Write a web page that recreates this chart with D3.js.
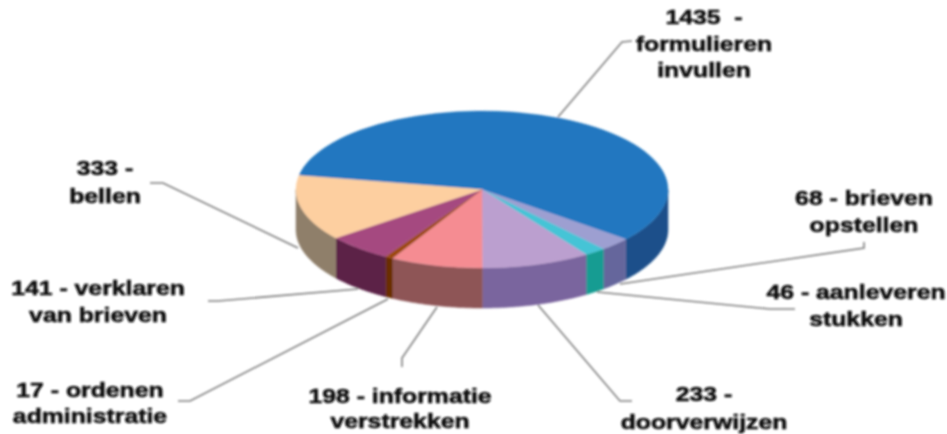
<!DOCTYPE html>
<html>
<head>
<meta charset="utf-8">
<script src="https://cdnjs.cloudflare.com/ajax/libs/d3/7.8.5/d3.min.js"></script>
<style>
  html, body { margin: 0; background: #fff; overflow: hidden; }
  text { font-family: "Liberation Sans", Arial, sans-serif; font-weight: bold; font-size: 20px; fill: #111; stroke: #111; stroke-width: 0.55; text-anchor: middle; white-space: pre; }
</style>
</head>
<body>
<script>
var w = 947;
var h = 434;

var tasks = ["formulieren invullen", "brieven opstellen", "aanleveren stukken", "doorverwijzen",
  "informatie verstrekken", "ordenen administratie", "verklaren van brieven", "bellen"];
var counts = [1435, 68, 46, 233, 198, 17, 141, 333];
var topColors = ["#2277c0", "#9d9fd1", "#45c4d6", "#bb9fcf", "#f58c92", "#9c4a10", "#a54a80", "#fdcfa0"];
var sideColors = ["#1a4f8a", "#65669c", "#159c92", "#7a659e", "#8e5557", "#6b2e05", "#5c2347", "#8f7f6a"];
var labelLines = [
  ["1435  -", "formulieren", "invullen"],
  ["68 - brieven", "opstellen"],
  ["46 - aanleveren", "stukken"],
  ["233 -", "doorverwijzen"],
  ["198 - informatie", "verstrekken"],
  ["17 - ordenen", "administratie"],
  ["141 - verklaren", "van brieven"],
  ["333 -", "bellen"]
];

// Layout of the labels and their leader lines, not data
var labelX = [704, 864, 856, 704, 400, 90, 98, 105];
var labelY = [[24, 51, 77], [205, 232], [299, 326], [401, 429], [403, 428], [397, 423], [295, 322], [175, 203]];
var textStretch = 1.24;
var leaders = [
  [[558, 117], [622, 42], [632, 41]],
  [[620, 284], [864, 248], [864, 242]],
  [[597, 292], [770, 309], [795, 309]],
  [[538, 305], [620, 401], [632, 401]],
  [[437, 307], [402, 358], [402, 367]],
  [[388, 299], [190, 401], [178, 401]],
  [[358, 289], [218, 301], [208, 301]],
  [[298, 248], [163, 183], [150, 183]]
];

var cx = 482, cy = 189.5, rx = 186, ry = 78.5, depth = 40;
var rotation = 280.3 * Math.PI / 180;

var svg = d3.select("body")
  .append("svg")
  .attr("width", w)
  .attr("height", h);

// The reference is a soft, upscaled picture
var defs = svg.append("defs");
defs.append("filter")
  .attr("id", "soft")
  .append("feGaussianBlur")
  .attr("stdDeviation", 0.8);
defs.append("filter")
  .attr("id", "softText")
  .append("feGaussianBlur")
  .attr("stdDeviation", 0.9);

var chart = svg.append("g").attr("filter", "url(#soft)");
var labels = svg.append("g").attr("filter", "url(#softText)");

var pie = d3.pie()
  .sort(null)
  .startAngle(rotation)
  .endAngle(rotation + 2 * Math.PI);
var slices = pie(counts);

// Point on the rim of the ellipse, angle as d3.pie gives it (0 at 12 o'clock)
function rim(a, dy) {
  return [cx + rx * Math.sin(a), cy - ry * Math.cos(a) + dy];
}

var lineGen = d3.line();

// Only the front half of the rim shows
function sidePath(d) {
  var front = [];
  // front half runs from PI/2 to 3PI/2, shifted by whole turns to meet the slice
  [0, 2 * Math.PI].forEach(function(turn) {
    var a0 = Math.max(d.startAngle, Math.PI / 2 + turn);
    var a1 = Math.min(d.endAngle, 1.5 * Math.PI + turn);
    if (a1 > a0) front.push([a0, a1]);
  });
  return front.map(function(r) {
    var steps = d3.range(0, 41).map(function(i) { return r[0] + (r[1] - r[0]) * i / 40; });
    var pts = steps.map(function(a) { return rim(a, 0); })
      .concat(steps.slice().reverse().map(function(a) { return rim(a, depth); }));
    return lineGen(pts) + "Z";
  }).join("");
}

// Leader lines go under the pie
chart.selectAll("path.leader")
  .data(leaders)
  .enter()
  .append("path")
  .attr("class", "leader")
  .attr("fill", "none")
  .attr("stroke", "#7f7f7f")
  .attr("stroke-width", 1.6)
  .attr("d", lineGen);

chart.selectAll("path.side")
  .data(slices)
  .enter()
  .append("path")
  .attr("class", "side")
  .attr("fill", function(d, i) { return sideColors[i]; })
  .attr("stroke", function(d, i) { return sideColors[i]; })
  .attr("stroke-width", 0.5)
  .attr("d", sidePath);

var arc = d3.arc().innerRadius(0).outerRadius(rx);

chart.append("g")
  .attr("transform", "translate(" + cx + "," + cy + ") scale(1," + (ry / rx) + ")")
  .selectAll("path")
  .data(slices)
  .enter()
  .append("path")
  .attr("fill", function(d, i) { return topColors[i]; })
  .attr("stroke", function(d, i) { return topColors[i]; })
  .attr("stroke-width", 0.5)
  .attr("d", arc);

labelLines.forEach(function(lines, i) {
  lines.forEach(function(line, j) {
    labels.append("text")
      .attr("transform", "translate(" + labelX[i] + "," + labelY[i][j] + ") scale(" + textStretch + ",1)")
      .text(line);
  });
});
</script>
</body>
</html>
